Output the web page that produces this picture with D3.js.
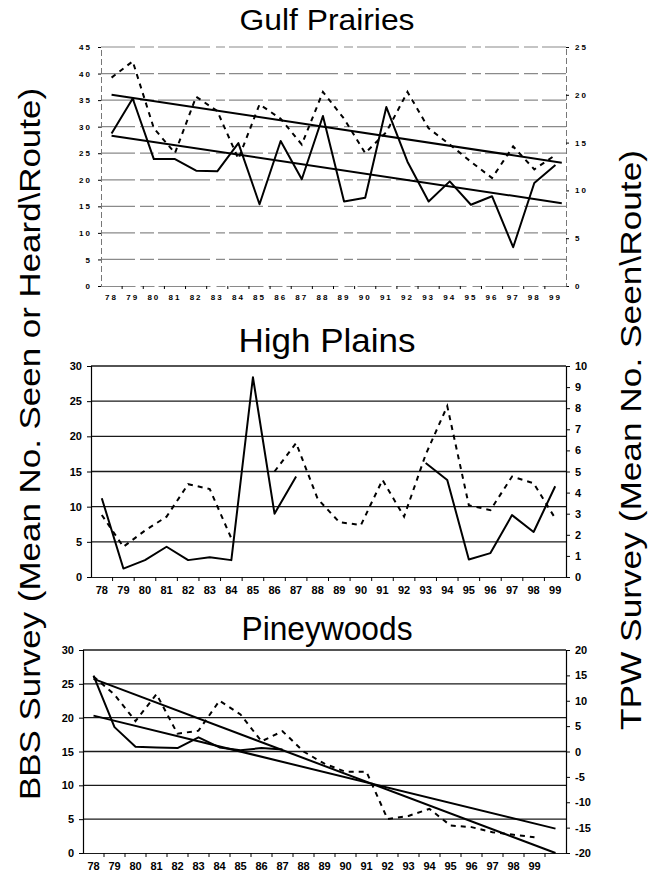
<!DOCTYPE html>
<html>
<head>
<meta charset="utf-8">
<script src="https://cdn.jsdelivr.net/npm/d3@7"></script>
<style>
  body { margin: 0; background: #fff; }
  svg { display: block; font-family: "Liberation Sans", Arial, sans-serif; }
  .tick text { font-weight: bold; }
</style>
</head>
<body>
<div id="graf"></div>
<script>
// datos
const years = ["78","79","80","81","82","83","84","85","86","87","88","89","90","91","92","93","94","95","96","97","98","99"];
const yearsPine = years.concat([""]);   // una categoría extra sin etiqueta (la tendencia llega hasta ahí)

// Gulf Prairies
const gulfBBS = [28.7, 35.3, 23.9, 23.9, 21.7, 21.6, 26.9, 15.4, 27.3, 20.1, 32.0, 15.9, 16.6, 33.7, 23.4, 15.9, 19.7, 15.3, 16.9, 7.3, 19.4, 22.8];
const gulfTPW = [21.8, 23.5, 16.5, 13.9, 19.8, 18.3, 13.3, 19.0, 17.5, 14.8, 20.3, 17.5, 13.9, 16.1, 20.3, 16.5, 14.8, 13.0, 11.3, 14.6, 12.2, 13.7];
const gulfTrendBBS = [28.3, 15.6];
const gulfTrendTPW = [20.0, 12.9];

// High Plains (null = sin dato)
const plainsBBS = [11.2, 1.2, 2.4, 4.3, 2.4, 2.8, 2.4, 28.4, 9.0, 14.3, null, null, null, null, null, 16.2, 13.8, 2.5, 3.4, 8.8, 6.4, 12.9];
const plainsTPW = [2.94, 1.43, 2.2, 2.86, 4.4, 4.17, 1.83, null, 5.0, 6.35, 3.7, 2.6, 2.46, 4.6, 2.86, 5.8, 8.1, 3.4, 3.17, 4.76, 4.44, 2.78];

// Pineywoods
const pineBBS = [26.2, 18.6, 15.7, 15.6, 15.5, 17.1, 15.6, 15.2, 15.5, 15.3];
const pineTPW = [14.8, 11.2, 6.0, 11.3, 3.5, 4.1, 10.0, 7.3, 2.0, 4.0, 0.0, -2.4, -4.0, -4.0, -13.3, -12.7, -11.3, -14.6, -14.9, -15.9, -16.4, -16.9];
const pineTrendBBS = [20.3, 3.6];
const pineTrendTPW = [14.3, -20.0];

const leftTitle = "BBS Survey (Mean No. Seen or Heard\\Route)";
const rightTitle = "TPW Survey (Mean No. Seen\\Route)";

const W = 656, H = 878;
const svg = d3.select("#graf").append("svg").attr("width", W).attr("height", H);

// función genérica para cada panel
const renderPanel = (p) => {
  const g = svg.append("g");
  const x = d3.scaleBand().domain(p.cats).range([p.left, p.right]).padding(0);
  const xi = d3.scaleLinear().domain([0, p.cats.length]).range([p.left, p.right]);
  const yL = d3.scaleLinear().domain(p.yL).range([p.bottom, p.top]);
  const yR = d3.scaleLinear().domain(p.yR).range([p.bottom, p.top]);
  const cx = (i) => x(p.cats[i]) + x.bandwidth() / 2;

  // líneas de rejilla
  const grid = d3.range(p.yL[0] + p.gridStep, p.yL[1] + 0.001, p.gridStep);
  g.selectAll(".grid").data(grid).enter().append("line")
    .attr("x1", p.left).attr("x2", p.right)
    .attr("y1", d => yL(d)).attr("y2", d => yL(d))
    .attr("stroke", p.gridColor).attr("stroke-width", p.gridWidth)
    .attr("stroke-dasharray", p.gridDash);

  // ejes (etiquetas con guion normal, como el original)
  const fmt = d => String(d);
  const axL = d3.axisLeft(yL).tickValues(d3.range(p.yL[0], p.yL[1] + 0.001, p.gridStep)).tickFormat(fmt).tickSize(p.tick).tickPadding(p.pad);
  const axR = d3.axisRight(yR).tickValues(d3.range(p.yR[0], p.yR[1] + 0.001, p.rStep)).tickFormat(fmt).tickSize(p.tick).tickPadding(p.pad);
  const axB = d3.axisBottom(x).tickSize(0).tickPadding(p.xPad);
  const gl = g.append("g").attr("transform", `translate(${p.left},0)`).call(axL);
  const gr = g.append("g").attr("transform", `translate(${p.right},0)`).call(axR);
  const gb = g.append("g").attr("transform", `translate(0,${p.bottom})`).call(axB);
  [gl, gr, gb].forEach(a => {
    a.selectAll("text").attr("font-size", p.fs).attr("fill", "#000")
      .attr("font-family", "Liberation Sans, Arial, sans-serif").style("letter-spacing", p.ls + "px");
    a.selectAll("line").attr("stroke", "#000").attr("stroke-width", 1);
    a.select(".domain").attr("stroke", p.axisColor).attr("stroke-width", p.axisWidth).attr("stroke-dasharray", p.axisDash);
  });
  gb.select(".domain").attr("stroke", p.gridColor).attr("stroke-dasharray", p.gridDash);
  // marcas del eje x entre categorías
  g.selectAll(".xt").data(d3.range(1, p.cats.length)).enter().append("line")
    .attr("x1", d => xi(d)).attr("x2", d => xi(d))
    .attr("y1", p.bottom).attr("y2", p.bottom + p.tick)
    .attr("stroke", "#000").attr("stroke-width", 1);

  // series
  const lineL = d3.line().defined(d => d != null).x((d, i) => cx(i)).y(d => yL(d));
  const lineR = d3.line().defined(d => d != null).x((d, i) => cx(i)).y(d => yR(d));
  g.append("path").datum(p.tpw).attr("d", lineR).attr("fill", "none")
    .attr("stroke", "#000").attr("stroke-width", 2).attr("stroke-dasharray", "5,5");
  g.append("path").datum(p.bbs).attr("d", lineL).attr("fill", "none")
    .attr("stroke", "#000").attr("stroke-width", 2).attr("stroke-linejoin", "round");

  // líneas de tendencia
  if (p.trendL) {
    g.append("line").attr("x1", cx(0)).attr("x2", xi(p.trendEnd + 0.5))
      .attr("y1", yL(p.trendL[0])).attr("y2", yL(p.trendL[1]))
      .attr("stroke", "#000").attr("stroke-width", 2);
    g.append("line").attr("x1", cx(0)).attr("x2", xi(p.trendEnd + 0.5))
      .attr("y1", yR(p.trendR[0])).attr("y2", yR(p.trendR[1]))
      .attr("stroke", "#000").attr("stroke-width", 2);
  }

  // título
  svg.append("text").attr("x", 327).attr("y", p.titleY).attr("text-anchor", "middle")
    .attr("font-size", p.titleSize).attr("textLength", p.titleLen).attr("lengthAdjust", "spacingAndGlyphs")
    .text(p.title);
};

renderPanel({
  title: "Gulf Prairies", titleY: 30, titleSize: 30, titleLen: 175, cats: years,
  left: 101, right: 566, top: 47, bottom: 286,
  yL: [0, 45], yR: [0, 25], gridStep: 5, rStep: 5,
  bbs: gulfBBS, tpw: gulfTPW, trendL: gulfTrendBBS, trendR: gulfTrendTPW, trendEnd: 21.3,
  gridColor: "#8a8a8a", gridWidth: 1.2, gridDash: "34,5,14,4,52,6,9,4",
  axisColor: "#777", axisWidth: 1, axisDash: "6,3",
  tick: 3, pad: 6, xPad: 8, fs: 8, ls: 2
});

renderPanel({
  title: "High Plains", titleY: 352, titleSize: 34, titleLen: 177, cats: years,
  left: 91, right: 566, top: 366, bottom: 577,
  yL: [0, 30], yR: [0, 10], gridStep: 5, rStep: 1,
  bbs: plainsBBS, tpw: plainsTPW,
  gridColor: "#1a1a1a", gridWidth: 1.4, gridDash: null,
  axisColor: "#000", axisWidth: 1.2, axisDash: null,
  tick: 4, pad: 5, xPad: 9, fs: 11, ls: 0
});

renderPanel({
  title: "Pineywoods", titleY: 640, titleSize: 33, titleLen: 171, cats: yearsPine,
  left: 83, right: 566, top: 650, bottom: 853,
  yL: [0, 30], yR: [-20, 20], gridStep: 5, rStep: 5,
  bbs: pineBBS, tpw: pineTPW, trendL: pineTrendBBS, trendR: pineTrendTPW, trendEnd: 22,
  gridColor: "#1a1a1a", gridWidth: 1.4, gridDash: null,
  axisColor: "#000", axisWidth: 1.2, axisDash: null,
  tick: 4, pad: 5, xPad: 9, fs: 11, ls: 0
});

// títulos de los ejes (girados)
svg.append("g").attr("transform", "translate(40,444) rotate(-90)")
  .append("text").attr("text-anchor", "middle").attr("font-size", 30)
  .attr("textLength", 712).attr("lengthAdjust", "spacingAndGlyphs").text(leftTitle);
svg.append("g").attr("transform", "translate(641,440) rotate(-90)")
  .append("text").attr("text-anchor", "middle").attr("font-size", 30)
  .attr("textLength", 580).attr("lengthAdjust", "spacingAndGlyphs").text(rightTitle);
</script>
</body>
</html>
